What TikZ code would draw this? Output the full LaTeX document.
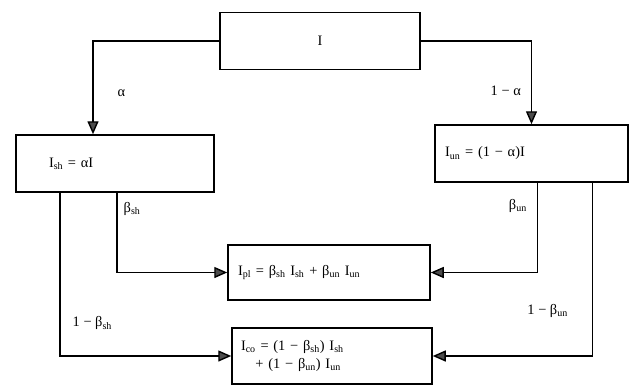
\documentclass[tikz,border=0pt]{standalone}
\usepackage{fontspec}
\setmainfont{Liberation Serif}
\usepackage{tikz}
\usetikzlibrary{arrows.meta,positioning}
\newcommand{\lo}[1]{\textsubscript{#1}}

\begin{document}
\begin{tikzpicture}[x=1pt,y=-1pt,
  fbox/.style={draw,line width=1.5pt,minimum height=57pt,align=left,font=\Large},
  flow/.style={line width=1.4pt,-{Triangle[length=13pt,width=11pt,fill=black!70]}},
  lbl/.style={font=\Large,inner sep=2pt}]
  \useasboundingbox (0,0) rectangle (630,386);
  % boxes
  \node[fbox,minimum width=200pt,align=center] (top) at (320,41) {I};
  \node[fbox,inner xsep=33pt,text width=132pt] (sh) at (115,163.5) {I\lo{sh} = αI};
  \node[fbox,inner xsep=10pt,text width=173pt] (un) at (531.5,153.5) {I\lo{un} = (1 − α)I};
  \node[fbox,inner xsep=10pt,text width=182pt,minimum height=55pt] (pl) at (329,272.5)
    {I\lo{pl} = β\lo{sh} I\lo{sh} + β\lo{un} I\lo{un}};
  \node[fbox,inner xsep=9pt,text width=182pt,minimum height=56pt] (co) at (332,356)
    {I\lo{co} = (1 − β\lo{sh}) I\lo{sh}\\\quad + (1 − β\lo{un}) I\lo{un}};
  % flows
  \draw[flow] (top.west) -| node[lbl,pos=0.78,right,xshift=22pt]{α} ([xshift=-22pt]sh.north);
  \draw[flow] (top.east) -| node[lbl,pos=0.8,left,xshift=-8pt]{1 − α} (un.north);
  \draw[flow] ([xshift=2pt]sh.south) |- node[lbl,pos=0.1,right,xshift=4pt]{β\lo{sh}} (pl.west);
  \draw[flow] ([xshift=-55pt]sh.south) |- node[lbl,pos=0.4,right,xshift=10pt]{1 − β\lo{sh}} (co.west);
  \draw[flow] ([xshift=6pt]un.south) |- node[lbl,pos=0.13,left,xshift=-8pt]{β\lo{un}} (pl.east);
  \draw[flow] ([xshift=61pt]un.south) |- node[lbl,pos=0.37,left,xshift=-22pt]{1 − β\lo{un}} (co.east);
\end{tikzpicture}
\end{document}
